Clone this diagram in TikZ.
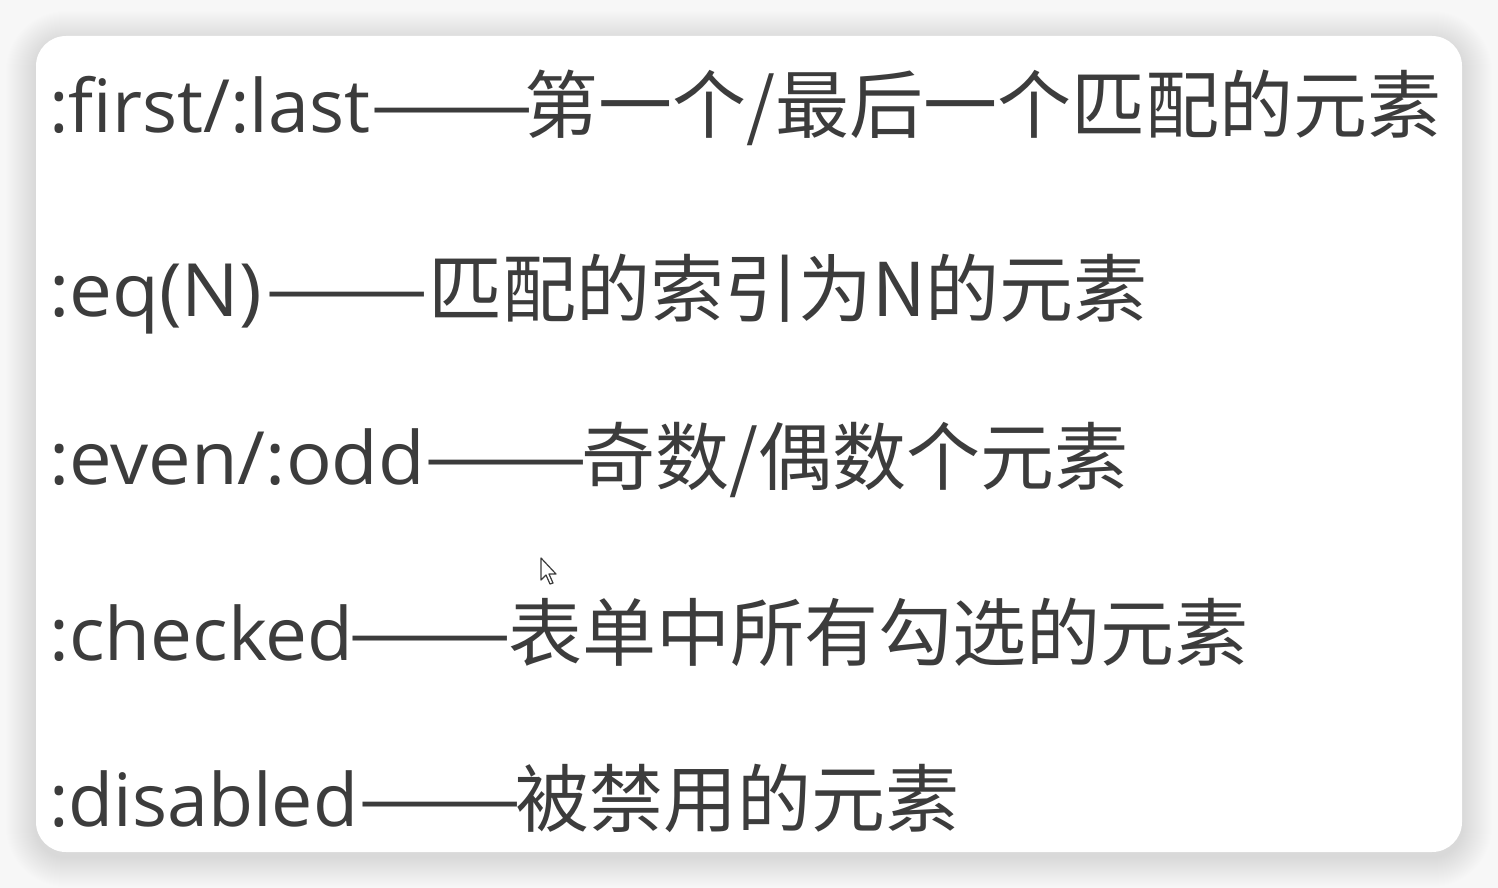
\documentclass[tikz,border=0pt]{standalone}
\usepackage{fontspec}
\newfontfamily\cjkf{Noto Sans CJK SC}
\newfontfamily\latf{Open Sans}
\definecolor{txt}{HTML}{3C3C3C}
\definecolor{bgc}{HTML}{F7F7F7}
\newcommand{\wdash}{\scalebox{1.25}[1]{——}}
\tikzset{
  lat/.style={font=\latf\fontsize{73.5}{90}\selectfont, text=txt, inner sep=0pt, anchor=base west},
  zh/.style={font=\cjkf\fontsize{74}{90}\selectfont, text=txt, inner sep=0pt, anchor=base west},
  dashtxt/.style={font=\cjkf\fontsize{78}{90}\selectfont, text=txt, inner sep=0pt, anchor=base west},
}
\begin{document}
\begin{tikzpicture}[x=1pt,y=-1pt]
\useasboundingbox (0,0) rectangle (1498,888);
\fill[bgc] (0,0) rectangle (1498,888);
\foreach \i in {1,...,30}{
  \pgfmathsetmacro\rr{30+\i}
  \fill[black, opacity=0.0045, rounded corners=\rr pt] (36-\i,36-\i+5) rectangle (1462+\i,852+\i+5);
}
\fill[white, rounded corners=30pt] (36,36) rectangle (1462,852);
% line 1
\node[lat] (l1a) at (49,132) {:first/:last};
\node[dashtxt] (l1d) at (370,132) {\wdash};
\node[zh] (l1c) at (524,132) {第一个/最后一个匹配的元素};
% line 2
\node[lat] (l2a) at (49,316) {\scalebox{1.04}[1]{:eq(N)}};
\node[dashtxt] (l2d) at (265,316) {\wdash};
\node[zh] (l2c) at (428,316) {匹配的索引为N的元素};
% line 3
\node[lat] (l3a) at (49,484) {\scalebox{1.034}[1]{:even/:odd}};
\node[dashtxt] (l3d) at (424,484) {\wdash};
\node[zh] (l3c) at (581,484) {奇数/偶数个元素};
% line 4
\node[lat] (l4a) at (49,660) {\scalebox{1.017}[1]{:checked}};
\node[dashtxt] (l4d) at (348,660) {\wdash};
\node[zh] (l4c) at (508,660) {表单中所有勾选的元素};
% line 5
\node[lat] (l5a) at (49,826) {:disabled};
\node[dashtxt] (l5d) at (358,826) {\wdash};
\node[zh] (l5c) at (515,826) {被禁用的元素};
% cursor
\filldraw[fill=white, draw=txt, line width=1.2pt, line join=round]
  (541,558) -- (541,580) -- (546,575) -- (550,584) -- (553,583) -- (549,574) -- (556,574) -- cycle;
\end{tikzpicture}
\end{document}
